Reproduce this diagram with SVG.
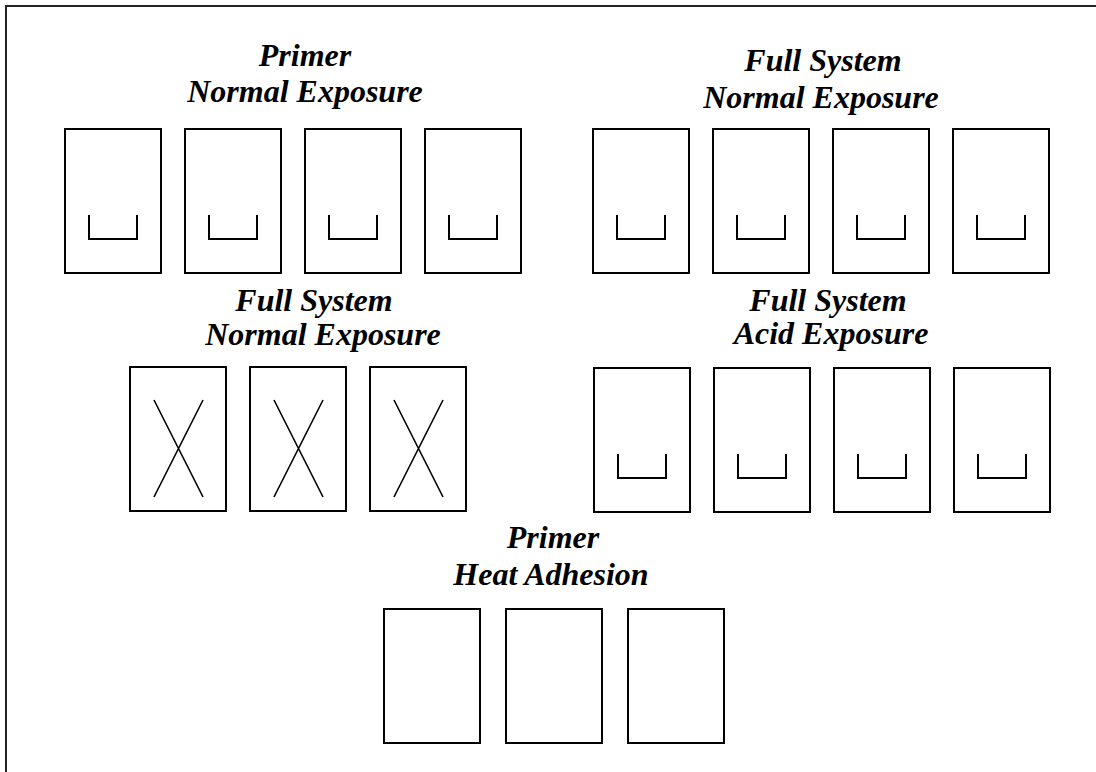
<svg xmlns="http://www.w3.org/2000/svg" width="1096" height="772" viewBox="0 0 1096 772">
<style>
.bg{fill:#fff}
.frame{fill:none;stroke:#222;stroke-width:2}
.box{fill:#fff;stroke:#000;stroke-width:2}
.mark{fill:none;stroke:#000;stroke-width:2}
.cross{fill:none;stroke:#000;stroke-width:1.6}
.t{font-family:"Liberation Serif","Times New Roman",serif;font-weight:bold;font-style:italic;font-size:32px;fill:#000;text-anchor:middle}
</style>
<defs>
<g id="ubox"><rect class="box" x="0" y="0" width="96" height="144"/><path class="mark" d="M24,86 V110 H72 V86"/></g>
<g id="xbox"><rect class="box" x="0" y="0" width="96" height="144"/><path class="cross" d="M24,33 L73,130 M73,33 L24,130"/></g>
</defs>
<rect class="bg" x="0" y="0" width="1096" height="772"/>
<path class="frame" d="M6,772 V6 H1096"/>
<g id="connectors"/>
<g id="group-primer-normal">
<text class="t" x="305" y="66">Primer</text>
<text class="t" x="305" y="102">Normal Exposure</text>
<use href="#ubox" x="65" y="129"/>
<use href="#ubox" x="185" y="129"/>
<use href="#ubox" x="305" y="129"/>
<use href="#ubox" x="425" y="129"/>
</g>
<g id="group-full-normal-top">
<text class="t" x="823" y="71">Full System</text>
<text class="t" x="821" y="108">Normal Exposure</text>
<use href="#ubox" x="593" y="129"/>
<use href="#ubox" x="713" y="129"/>
<use href="#ubox" x="833" y="129"/>
<use href="#ubox" x="953" y="129"/>
</g>
<g id="group-full-normal-x">
<text class="t" x="314" y="311">Full System</text>
<text class="t" x="323" y="345">Normal Exposure</text>
<use href="#xbox" x="130" y="367"/>
<use href="#xbox" x="250" y="367"/>
<use href="#xbox" x="370" y="367"/>
</g>
<g id="group-full-acid">
<text class="t" x="828" y="311">Full System</text>
<text class="t" x="831" y="344">Acid Exposure</text>
<use href="#ubox" x="594" y="368"/>
<use href="#ubox" x="714" y="368"/>
<use href="#ubox" x="834" y="368"/>
<use href="#ubox" x="954" y="368"/>
</g>
<g id="group-primer-heat">
<text class="t" x="553" y="548">Primer</text>
<text class="t" x="551" y="585">Heat Adhesion</text>
<rect class="box" x="384" y="609" width="96" height="134"/>
<rect class="box" x="506" y="609" width="96" height="134"/>
<rect class="box" x="628" y="609" width="96" height="134"/>
</g>
</svg>
